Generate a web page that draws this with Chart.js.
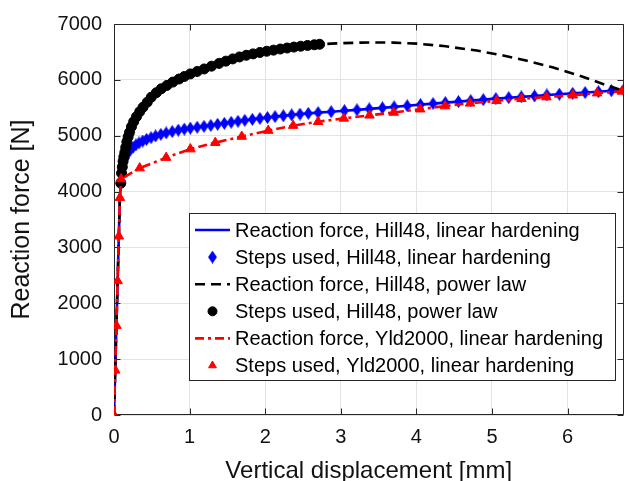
<!DOCTYPE html>
<html>
<head>
<meta charset="utf-8">
<script src="https://cdn.jsdelivr.net/npm/chart.js@4/dist/chart.umd.min.js"></script>
<style>
html,body{margin:0;padding:0;background:#fff;}
#wrap{width:630px;height:481px;}
</style>
</head>
<body>
<div id="wrap"><canvas id="c" width="630" height="481"></canvas></div>
<script>
// ---------------- data ----------------
const xTickValues = [0, 1, 2, 3, 4, 5, 6];
const yTickValues = [0, 1000, 2000, 3000, 4000, 5000, 6000, 7000];

// Hill48, linear hardening (line; step markers start after the elastic part)
const hillLinDisp = [0, 0.016, 0.032, 0.048, 0.064, 0.078, 0.09, 0.10, 0.115, 0.13, 0.15, 0.18, 0.21, 0.25, 0.29, 0.33, 0.38, 0.43, 0.49, 0.55, 0.62, 0.69, 0.77, 0.85, 0.93, 1.01, 1.10, 1.19, 1.28, 1.37, 1.46, 1.55, 1.64, 1.73, 1.83, 1.93, 2.03, 2.13, 2.24, 2.35, 2.46, 2.57, 2.70, 2.873, 3.048, 3.214, 3.376, 3.551, 3.705, 3.879, 4.054, 4.220, 4.382, 4.557, 4.719, 4.885, 5.051, 5.222, 5.388, 5.563, 5.726, 5.891, 6.067, 6.232, 6.408, 6.579, 6.744];
const hillLinForce = [0, 800, 1600, 2400, 3200, 3890, 4200, 4320, 4450, 4530, 4600, 4680, 4740, 4790, 4835, 4870, 4905, 4935, 4965, 4995, 5025, 5050, 5075, 5100, 5118, 5135, 5152, 5168, 5185, 5205, 5222, 5240, 5258, 5275, 5292, 5310, 5326, 5342, 5357, 5372, 5386, 5400, 5414, 5430, 5447, 5463, 5481, 5499, 5516, 5536, 5557, 5575, 5593, 5611, 5628, 5646, 5664, 5681, 5696, 5711, 5729, 5743, 5758, 5773, 5788, 5805, 5823];

// Hill48, power law: steps used and the reaction force curve (tail has no step markers)
const hillPowDisp = [0, 0.016, 0.032, 0.048, 0.064, 0.078, 0.09, 0.10, 0.11, 0.12, 0.13, 0.143, 0.155, 0.17, 0.187, 0.205, 0.231, 0.26, 0.297, 0.34, 0.384, 0.44, 0.493, 0.56, 0.625, 0.70, 0.778, 0.86, 0.93, 1.009, 1.10, 1.193, 1.29, 1.39, 1.48, 1.57, 1.66, 1.75, 1.84, 1.93, 2.02, 2.11, 2.20, 2.29, 2.38, 2.47, 2.56, 2.65, 2.72];
const hillPowForce = [0, 800, 1600, 2400, 3200, 3890, 4150, 4330, 4440, 4540, 4620, 4700, 4790, 4890, 4980, 5060, 5160, 5250, 5340, 5430, 5510, 5600, 5690, 5770, 5840, 5900, 5960, 6015, 6060, 6106, 6150, 6195, 6245, 6295, 6335, 6375, 6410, 6440, 6465, 6490, 6512, 6532, 6552, 6570, 6587, 6602, 6616, 6628, 6637];
const hillPowTailDisp = [2.87, 3.0, 3.27, 3.5, 3.70, 4.01, 4.36, 4.80, 5.15, 5.45, 5.80, 6.15, 6.46, 6.74];
const hillPowTailForce = [6648, 6656, 6667, 6670, 6667, 6648, 6605, 6525, 6435, 6345, 6225, 6080, 5930, 5805];

// Yld2000, linear hardening
const yldDisp = [0, 0.016, 0.032, 0.048, 0.064, 0.078, 0.094, 0.34, 0.69, 1.01, 1.34, 1.69, 2.04, 2.37, 2.70, 3.04, 3.38, 3.70, 4.05, 4.38, 4.71, 5.06, 5.39, 5.72, 6.07, 6.39, 6.72];
const yldForce = [0, 800, 1600, 2400, 3200, 3890, 4225, 4420, 4608, 4760, 4875, 4986, 5092, 5181, 5250, 5310, 5365, 5416, 5475, 5530, 5580, 5625, 5662, 5692, 5725, 5762, 5793];

// number of leading (elastic) points whose step markers are hidden under the red triangles
const hiddenElasticSteps = 6;

const seriesLabels = [
  'Reaction force, Hill48, linear hardening',
  'Steps used, Hill48, linear hardening',
  'Reaction force, Hill48, power law',
  'Steps used, Hill48, power law',
  'Reaction force, Yld2000, linear hardening',
  'Steps used, Yld2000, linear hardening'
];
const xTitle = 'Vertical displacement [mm]';
const yTitle = 'Reaction force [N]';

// ---------------- helpers ----------------
const pts = (xs, ys) => xs.map((x, i) => ({x: x, y: ys[i]}));
const FONT = '"Liberation Sans", Arial, Helvetica, sans-serif';
Chart.defaults.font.family = FONT;

function diamondImage(w, h, color) {
  const c = document.createElement('canvas');
  c.width = w; c.height = h;
  const g = c.getContext('2d');
  g.fillStyle = color;
  g.beginPath();
  g.moveTo(w / 2, 0); g.lineTo(w, h / 2); g.lineTo(w / 2, h); g.lineTo(0, h / 2);
  g.closePath(); g.fill();
  return c;
}
const diamond = diamondImage(9, 13, '#0000ff');

const BLUE = '#0000ff', BLACK = '#000000', RED = '#ff0000';
const LW = 2.6;

const datasets = [
  {label: seriesLabels[0], data: pts(hillLinDisp, hillLinForce), borderColor: BLUE, backgroundColor: BLUE,
   borderWidth: LW, pointRadius: 0, showLine: true, order: 6},
  {label: seriesLabels[1], data: pts(hillLinDisp, hillLinForce).slice(hiddenElasticSteps), borderColor: BLUE, backgroundColor: BLUE,
   pointStyle: diamond, pointRadius: 5, borderWidth: 1, showLine: false, order: 5},
  {label: seriesLabels[2], data: pts(hillPowDisp.concat(hillPowTailDisp), hillPowForce.concat(hillPowTailForce)),
   borderColor: BLACK, backgroundColor: BLACK, borderWidth: LW, borderDash: [10, 6], pointRadius: 0, showLine: true, order: 4},
  {label: seriesLabels[3], data: pts(hillPowDisp, hillPowForce).slice(hiddenElasticSteps), borderColor: BLACK, backgroundColor: BLACK,
   pointStyle: 'circle', pointRadius: 5, borderWidth: 1, showLine: false, order: 3},
  {label: seriesLabels[4], data: pts(yldDisp, yldForce), borderColor: RED, backgroundColor: RED,
   borderWidth: LW, borderDash: [9, 4, 3, 4], pointRadius: 0, showLine: true, order: 2},
  {label: seriesLabels[5], data: pts(yldDisp, yldForce), borderColor: RED, backgroundColor: RED,
   pointStyle: 'triangle', pointRadius: 5.5, borderWidth: 1, showLine: false, order: 1}
];

// frame with inward tick marks (MATLAB-like box)
const framePlugin = {
  id: 'frame',
  beforeDatasetsDraw(chart) {
    const {ctx, chartArea: a, scales} = chart;
    ctx.save();
    ctx.strokeStyle = '#262626';
    ctx.lineWidth = 1;
    ctx.setLineDash([]);
    ctx.beginPath();
    const L = Math.round(a.left) + 0.5, R = Math.round(a.right) - 0.5;
    const T = Math.round(a.top) + 0.5, B = Math.round(a.bottom) - 0.5;
    ctx.rect(L, T, R - L, B - T);
    const tl = 6;
    scales.x.ticks.forEach(t => {
      const px = Math.round(scales.x.getPixelForValue(t.value)) + 0.5;
      ctx.moveTo(px, B); ctx.lineTo(px, B - tl);
      ctx.moveTo(px, T); ctx.lineTo(px, T + tl);
    });
    scales.y.ticks.forEach(t => {
      const py = Math.round(scales.y.getPixelForValue(t.value)) + 0.5;
      ctx.moveTo(L, py); ctx.lineTo(L + tl, py);
      ctx.moveTo(R, py); ctx.lineTo(R - tl, py);
    });
    ctx.stroke();
    ctx.restore();
  }
};

// boxed legend inside the axes (like MATLAB)
const legendPlugin = {
  id: 'boxLegend',
  afterDatasetsDraw(chart) {
    const {ctx, chartArea: a} = chart;
    const L = Math.round(a.left + 75), T = Math.round(a.top + 189), W = 426, H = 167;
    ctx.save();
    ctx.fillStyle = '#ffffff';
    ctx.fillRect(L, T, W, H);
    ctx.strokeStyle = '#262626';
    ctx.lineWidth = 1;
    ctx.setLineDash([]);
    ctx.strokeRect(L + 0.5, T + 0.5, W, H);
    ctx.font = '20px ' + FONT;
    ctx.textBaseline = 'middle';
    ctx.textAlign = 'left';
    chart.data.datasets.forEach((ds, i) => {
      const cy = T + 17 + i * 27.1;
      ctx.save();
      if (ds.showLine) {
        ctx.strokeStyle = ds.borderColor;
        ctx.lineWidth = ds.borderWidth;
        ctx.setLineDash(ds.borderDash || []);
        ctx.beginPath();
        ctx.moveTo(L + 6, cy); ctx.lineTo(L + 41, cy);
        ctx.stroke();
      } else {
        ctx.fillStyle = ds.backgroundColor;
        ctx.strokeStyle = ds.borderColor;
        ctx.lineWidth = 1;
        Chart.helpers.drawPoint(ctx, {pointStyle: ds.pointStyle, radius: Math.min(ds.pointRadius, 4.5), borderWidth: 1, rotation: 0}, L + 23.5, cy);
      }
      ctx.restore();
      ctx.fillStyle = '#000000';
      ctx.fillText(ds.label, L + 46, cy + 1);
    });
    ctx.restore();
  }
};

new Chart(document.getElementById('c'), {
  type: 'line',
  data: {datasets: datasets},
  plugins: [framePlugin, legendPlugin],
  options: {
    responsive: false,
    animation: false,
    events: [],
    layout: {padding: {top: 19, right: 2, left: 0, bottom: 0}},
    plugins: {legend: {display: false}, tooltip: {enabled: false}},
    scales: {
      x: {
        type: 'linear', min: 0, max: 6.74,
        afterBuildTicks: s => { s.ticks = xTickValues.map(v => ({value: v})); },
        ticks: {stepSize: 1, includeBounds: false, padding: 10, color: '#111', font: {size: 20}, maxRotation: 0,
                callback: v => String(v)},
        grid: {color: '#e3e3e3', lineWidth: 1, drawTicks: false},
        border: {display: false},
        title: {display: true, text: xTitle, color: '#111', font: {size: 24, lineHeight: 1}, padding: {top: 0, bottom: -2}},
        afterFit: s => { s.height = 66; }
      },
      y: {
        type: 'linear', min: 0, max: 7000,
        afterBuildTicks: s => { s.ticks = yTickValues.map(v => ({value: v})); },
        ticks: {stepSize: 1000, padding: 12, color: '#111', font: {size: 20}, callback: v => String(v)},
        grid: {color: '#e3e3e3', lineWidth: 1, drawTicks: false},
        border: {display: false},
        title: {display: true, text: yTitle, color: '#111', font: {size: 25, lineHeight: 1}, padding: {top: 10, bottom: 0}},
        afterFit: s => { s.width = 114; }
      }
    }
  }
});
</script>
</body>
</html>
